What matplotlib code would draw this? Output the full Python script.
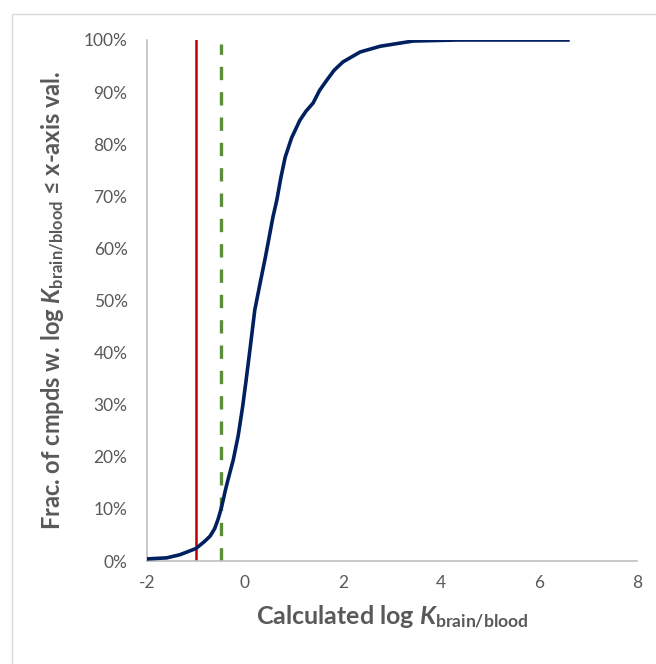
import matplotlib
matplotlib.use("Agg")
import matplotlib.pyplot as plt
from matplotlib.patches import Rectangle
from matplotlib.ticker import FuncFormatter

# cumulative curve
log_k = [-2.0, -1.6, -1.33, -1.0, -0.82, -0.71, -0.62, -0.55, -0.5, -0.45, -0.4,
         -0.35, -0.24, -0.14, -0.05, 0.02, 0.1, 0.2, 0.31, 0.42, 0.51, 0.57,
         0.65, 0.73, 0.82, 0.95, 1.12, 1.25, 1.39, 1.52, 1.67, 1.82, 2.0, 2.35,
         2.76, 3.16, 3.43, 4.33, 6.59]
frac = [0.4, 0.6, 1.2, 2.4, 3.8, 4.8, 6.2, 8.0, 9.6, 11.5, 13.6,
        15.5, 19.4, 24.0, 29.5, 34.5, 40.5, 48.2, 53.4, 58.5, 63.0, 66.0,
        69.3, 73.5, 77.5, 81.2, 84.6, 86.4, 87.9, 90.3, 92.3, 94.2, 95.8, 97.7,
        98.8, 99.4, 99.8, 100.0, 100.0]
red_cut = -1.0
green_cut = -0.5

plt.rcParams["font.family"] = ["Lato", "DejaVu Sans"]
plt.rcParams["axes.unicode_minus"] = False
plt.rcParams["mathtext.fontset"] = "custom"
plt.rcParams["mathtext.rm"] = "Lato:bold"
plt.rcParams["mathtext.it"] = "Lato:italic:bold"
plt.rcParams["mathtext.bf"] = "Lato:bold"

grey = "#595959"

fig = plt.figure(figsize=(6.56, 6.64), dpi=100)
fig.patches.append(Rectangle((12 / 656, -0.1), 1.1, 0.1 + (664 - 14) / 664,
                             transform=fig.transFigure, fill=False,
                             edgecolor="#D9D9D9", linewidth=1))
ax = fig.add_axes([147 / 656, 103 / 664, 490 / 656, 521 / 664])

ax.plot(log_k, frac, color="#002060", linewidth=2.6, zorder=3)
ax.axvline(red_cut, color="#C00000", linewidth=1.8, zorder=2)
ax.axvline(green_cut, ymax=0.993, color="#5B8C3A", linewidth=2.4,
           dashes=(4, 3.6), zorder=2)

ax.set_xlim(-2, 8)
ax.set_ylim(0, 100)
ax.set_xticks(range(-2, 9, 2))
ax.set_yticks(range(0, 101, 10))
ax.yaxis.set_major_formatter(FuncFormatter(lambda v, p: f"{v:.0f}%"))
ax.tick_params(length=0, labelsize=12.5, colors=grey, pad=10)
ax.tick_params(axis="y", pad=14)

for s in ["top", "right"]:
    ax.spines[s].set_visible(False)
for s in ["left", "bottom"]:
    ax.spines[s].set_color("#BFBFBF")
    ax.spines[s].set_linewidth(1.2)

ax.set_xlabel(r"Calculated log $\mathit{K}_{\mathrm{brain/blood}}$",
              fontsize=18, fontweight="bold", color=grey, labelpad=9)
ax.set_ylabel(r"Frac. of cmpds w. log $\mathit{K}_{\mathrm{brain/blood}}$ ≤ x-axis val.",
              fontsize=17, fontweight="bold", color=grey, labelpad=12)

fig.savefig("out.png", dpi=100)
